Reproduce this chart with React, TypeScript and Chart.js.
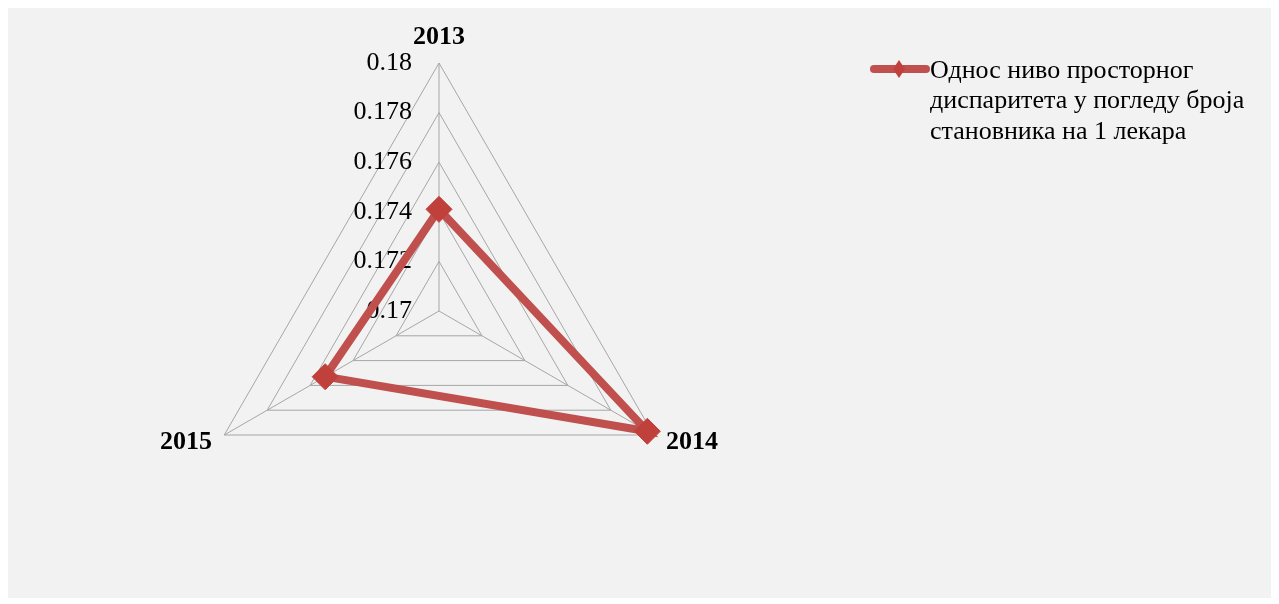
import React, { useEffect, useRef } from "react";
import { Chart, registerables } from "chart.js";

Chart.register(...registerables);

const categories = ["2013", "2014", "2015"];
const seriesValues = [0.1741, 0.1797, 0.1753];
const seriesLabelLines = [
  "Однос ниво просторног",
  "диспаритета у погледу броја",
  "становника на 1 лекара",
];
const tickLabels = ["0.17", "0.172", "0.174", "0.176", "0.178", "0.18"];
const scaleMin = 0.17;
const scaleMax = 0.18;
const scaleStep = 0.002;

const LINE_COLOR = "#c0504d";
const MARKER_COLOR = "#c0403c";
const GRID_COLOR = "#a6a6a6";
const SERIF = "'Liberation Serif', 'Times New Roman', serif";

const tickLabelPlugin = {
  id: "tickLabelPlugin",
  beforeDatasetsDraw(chart: any) {
    const s = chart.scales.r;
    const ctx = chart.ctx;
    ctx.save();
    ctx.font = `26px ${SERIF}`;
    ctx.fillStyle = "#000";
    ctx.textAlign = "right";
    ctx.textBaseline = "middle";
    s.ticks.forEach((t: any, i: number) => {
      const d = s.getDistanceFromCenterForValue(t.value);
      const label = tickLabels[i] ?? String(parseFloat(t.value.toFixed(3)));
      ctx.fillText(label, s.xCenter - 27, s.yCenter - d);
    });
    ctx.restore();
  },
};

const legendPlugin = {
  id: "customLegend",
  afterDraw(chart: any) {
    const ctx = chart.ctx;
    const ds = chart.data.datasets[0];
    ctx.save();
    ctx.strokeStyle = ds.borderColor;
    ctx.lineWidth = 8;
    ctx.lineCap = "round";
    ctx.beginPath();
    ctx.moveTo(866, 61);
    ctx.lineTo(918, 61);
    ctx.stroke();
    ctx.fillStyle = ds.pointBackgroundColor;
    ctx.beginPath();
    ctx.moveTo(891, 52);
    ctx.lineTo(897, 61);
    ctx.lineTo(891, 70);
    ctx.lineTo(885, 61);
    ctx.closePath();
    ctx.fill();
    ctx.fillStyle = "#000";
    ctx.font = `26px ${SERIF}`;
    ctx.textAlign = "left";
    ctx.textBaseline = "middle";
    seriesLabelLines.forEach((line, i) => {
      ctx.fillText(line, 922, 63 + i * 30.5);
    });
    ctx.restore();
  },
};

export default function App() {
  const ref = useRef<HTMLCanvasElement | null>(null);

  useEffect(() => {
    if (!ref.current) return;
    const chart = new Chart(ref.current, {
      type: "radar",
      data: {
        labels: categories,
        datasets: [
          {
            label: seriesLabelLines.join(" "),
            data: seriesValues,
            borderColor: LINE_COLOR,
            borderWidth: 8,
            backgroundColor: "transparent",
            fill: false,
            pointStyle: "rectRot",
            pointRadius: 13,
            pointHoverRadius: 13,
            pointBackgroundColor: MARKER_COLOR,
            pointBorderColor: MARKER_COLOR,
            pointBorderWidth: 1,
          },
        ],
      },
      options: {
        responsive: false,
        animation: false,
        layout: { padding: 0 },
        plugins: {
          legend: { display: false },
          tooltip: { enabled: false },
        },
        scales: {
          r: {
            min: scaleMin,
            max: scaleMax,
            ticks: { display: false, stepSize: scaleStep },
            grid: { color: GRID_COLOR, lineWidth: 1 },
            angleLines: { color: GRID_COLOR, lineWidth: 1 },
            pointLabels: {
              color: "#000",
              font: { family: SERIF, size: 26, weight: "bold", lineHeight: "1px" },
              padding: (c: any) => [25, 14, 14][c.index] ?? 10,
            },
            afterSetDimensions: (s: any) => {
              s.xCenter = 431;
              s.yCenter = 303;
              s.drawingArea = 248;
            },
          } as any,
        },
      },
      plugins: [tickLabelPlugin, legendPlugin],
    });
    return () => chart.destroy();
  }, []);

  return (
    <div style={{ width: 1263, height: 590, background: "#f2f2f2" }}>
      <canvas ref={ref} width={1263} height={590} />
    </div>
  );
}
